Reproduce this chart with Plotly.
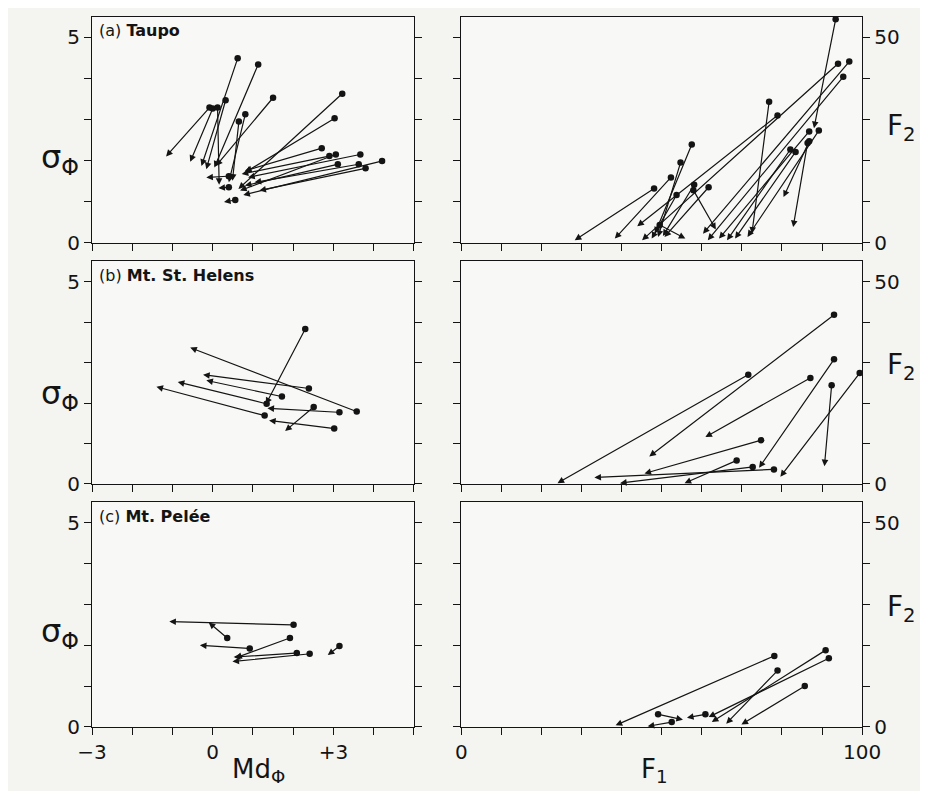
import plotly.graph_objects as go

# ---------------- data ----------------
# (a) Taupo  -- left: Md_phi vs sigma_phi (arrow from start dot to end head)
taupo_md_start = [0.62, 1.13, 0.32, -0.08, 0.00, 0.12, 1.50, 0.81, 0.65, 3.22, 3.03, 2.71, 2.90, 3.06, 3.67, 3.11, 3.63, 4.21, 3.80, 0.40, 0.56, 0.40]
taupo_sd_start = [4.49, 4.34, 3.47, 3.29, 3.27, 3.29, 3.53, 3.13, 2.95, 3.63, 3.03, 2.30, 2.11, 2.15, 2.15, 1.91, 1.91, 1.99, 1.81, 1.62, 1.04, 1.35]
taupo_md_end = [-0.28, 0.04, -0.16, -1.16, -0.56, 0.16, 0.08, 0.40, 0.49, 0.64, 0.80, 0.80, 0.72, 0.68, 0.88, 0.80, 1.04, 0.76, 1.16, -0.16, 0.28, 0.14]
taupo_sd_end = [1.87, 1.83, 1.79, 2.10, 1.97, 1.41, 1.87, 1.47, 1.51, 1.31, 1.71, 1.75, 1.67, 1.27, 1.59, 1.39, 1.47, 1.16, 1.27, 1.59, 0.99, 1.33]
# (a) Taupo -- right: F1 vs F2
taupo_f1_start = [48.1, 52.3, 78.9, 94.0, 57.5, 54.7, 53.7, 58.1, 57.9, 49.5, 61.7, 96.8, 95.3, 76.8, 93.4, 86.8, 89.2, 86.4, 86.8, 82.1, 83.4]
taupo_f2_start = [13.2, 15.9, 31.0, 43.6, 23.9, 19.5, 11.6, 14.1, 12.8, 4.3, 13.5, 44.1, 40.4, 34.3, 54.4, 27.1, 27.3, 24.3, 24.7, 22.7, 22.1]
taupo_f1_end = [28.3, 38.3, 43.9, 45.1, 48.3, 49.1, 47.5, 50.3, 63.5, 55.9, 50.7, 60.3, 61.5, 72.5, 88.0, 64.3, 71.4, 82.8, 80.4, 66.3, 68.3]
taupo_f2_end = [0.6, 1.0, 4.0, 0.6, 2.2, 1.4, 1.0, 1.6, 3.2, 1.0, 1.4, 2.2, 0.6, 2.2, 27.9, 1.0, 1.4, 3.8, 11.1, 0.6, 1.0]

# (b) Mt. St. Helens
helens_md_start = [2.30, 3.58, 2.39, 1.72, 1.34, 1.29, 3.15, 2.51, 3.02]
helens_sd_start = [3.83, 1.79, 2.36, 2.16, 1.98, 1.69, 1.77, 1.90, 1.37]
helens_md_end = [1.32, -0.56, -0.24, -0.16, -0.87, -1.40, 1.36, 1.80, 1.40]
helens_sd_end = [1.97, 3.37, 2.70, 2.56, 2.52, 2.40, 1.87, 1.31, 1.57]
helens_f1_start = [93.0, 71.6, 87.1, 93.0, 92.4, 99.4, 74.8, 68.7, 72.7, 78.0]
helens_f2_start = [41.8, 27.0, 26.2, 30.8, 24.4, 27.4, 10.8, 5.8, 4.2, 3.6]
helens_f1_end = [46.9, 24.0, 60.9, 74.3, 90.6, 79.6, 45.7, 55.7, 39.6, 33.2]
helens_f2_end = [6.8, 0.2, 11.6, 4.0, 4.4, 1.8, 2.6, 0.2, 0.2, 1.6]

# (c) Mt. Pelee
pelee_md_start = [2.01, 0.36, 0.92, 1.92, 2.09, 2.41, 3.15]
pelee_sd_start = [2.50, 2.18, 1.92, 2.18, 1.81, 1.79, 1.98]
pelee_md_end = [-1.08, -0.10, -0.32, 0.56, 0.52, 0.49, 2.86]
pelee_sd_end = [2.58, 2.56, 2.00, 1.69, 1.71, 1.60, 1.76]
pelee_f1_start = [78.1, 90.9, 91.7, 78.9, 85.7, 49.1, 60.9, 52.5]
pelee_f2_start = [17.4, 18.8, 16.8, 13.8, 10.0, 3.1, 3.1, 1.2]
pelee_f1_end = [38.5, 62.5, 61.7, 66.1, 69.9, 55.3, 56.3, 46.5]
pelee_f2_end = [0.4, 1.2, 2.4, 0.8, 0.6, 1.76, 2.24, 0.15]

panel_titles = ["(a) <b>Taupo</b>", "(b) <b>Mt. St. Helens</b>", "(c) <b>Mt. Pelée</b>"]
md_major = [-3, 0, 3]
md_labels = ["\u22123", "0", "+3"]
md_minor = [-2, -1, 1, 2, 4, 5]
sd_major = [0, 5]
sd_labels = ["0", "5"]
sd_minor = [1, 2, 3, 4]
f1_major = [0, 100]
f1_labels = ["0", "100"]
f1_minor = [10, 20, 30, 40, 50, 60, 70, 80, 90]
f2_major = [0, 50]
f2_labels = ["0", "50"]
f2_minor = [10, 20, 30, 40]

left_sets = [
    (taupo_md_start, taupo_sd_start, taupo_md_end, taupo_sd_end),
    (helens_md_start, helens_sd_start, helens_md_end, helens_sd_end),
    (pelee_md_start, pelee_sd_start, pelee_md_end, pelee_sd_end),
]
right_sets = [
    (taupo_f1_start, taupo_f2_start, taupo_f1_end, taupo_f2_end),
    (helens_f1_start, helens_f2_start, helens_f1_end, helens_f2_end),
    (pelee_f1_start, pelee_f2_start, pelee_f1_end, pelee_f2_end),
]

# ---------------- layout geometry ----------------
W, H = 928, 791
INK = "#141414"
FONT = "DejaVu Sans, Lato, sans-serif"
left_dom = [71.7 / W, 405.7 / W]
right_dom = [455.0 / W, 871.0 / W]
rows_px = [(9, 238.3), (257.3, 483.3), (502, 730)]
row_doms = [[1 - b / H, 1 - t / H] for (t, b) in rows_px]


def nm(letter, i):
    return letter if i == 1 else f"{letter}{i}"


def minor(vals):
    return dict(tickvals=vals, ticks="outside", ticklen=7, tickwidth=1.2, tickcolor=INK, showgrid=False)


fig = go.Figure()
annotations = []
layout_axes = {}

for r in range(3):
    li = 2 * r + 1
    ri = 2 * r + 2
    lx, ly = nm("x", li), nm("y", li)
    rx, ry = nm("x", ri), nm("y", ri)
    last = (r == 2)

    common = dict(showgrid=False, zeroline=False, showline=True, linecolor=INK, linewidth=1.3,
                  ticks="outside", ticklen=7, tickwidth=1.2, tickcolor=INK,
                  tickfont=dict(family=FONT, size=20, color=INK))

    layout_axes[nm("xaxis", li)] = dict(common, domain=left_dom, anchor=ly, range=[-3, 5],
                                        tickvals=md_major, ticktext=md_labels, showticklabels=last,
                                        minor=minor(md_minor), mirror=True)
    layout_axes[nm("yaxis", li)] = dict(common, domain=row_doms[r], anchor=lx, range=[0, 5.5],
                                        tickvals=sd_major, ticktext=sd_labels,
                                        minor=minor(sd_minor), mirror="ticks")
    layout_axes[nm("xaxis", ri)] = dict(common, domain=right_dom, anchor=ry, range=[0, 100],
                                        tickvals=f1_major, ticktext=f1_labels, showticklabels=last,
                                        minor=minor(f1_minor), mirror=True)
    layout_axes[nm("yaxis", ri)] = dict(common, domain=row_doms[r], anchor=rx, range=[0, 55],
                                        side="right", tickvals=f2_major, ticktext=f2_labels,
                                        minor=minor(f2_minor), mirror="ticks")

    for (xs, ys, xe, ye), xa, ya in [(left_sets[r], lx, ly), (right_sets[r], rx, ry)]:
        fig.add_trace(go.Scatter(x=xs, y=ys, mode="markers", xaxis=xa, yaxis=ya,
                                 marker=dict(size=6.5, color=INK), showlegend=False, hoverinfo="skip"))
        for a, b, c, d in zip(xs, ys, xe, ye):
            annotations.append(dict(x=c, y=d, ax=a, ay=b, xref=xa, yref=ya, axref=xa, ayref=ya,
                                    text="", showarrow=True, arrowhead=2, arrowsize=1.1,
                                    arrowwidth=1.2, arrowcolor=INK, standoff=0, startstandoff=0))

    # panel title
    annotations.append(dict(text=panel_titles[r], xref=f"{lx} domain", yref=f"{ly} domain",
                            x=0.015, y=0.99, xanchor="left", yanchor="top", showarrow=False,
                            font=dict(family=FONT, size=16, color=INK)))
    # sigma_phi label
    annotations.append(dict(text="\u03c3<sub>\u03a6</sub>", xref="paper", yref=ly,
                            x=38 / W, y=[2.05, 2.2, 2.3][r], xanchor="center", yanchor="middle",
                            showarrow=False, font=dict(family=FONT, size=32, color=INK)))
    # F2 label
    annotations.append(dict(text="F<sub>2</sub>", xref="paper", yref=ry,
                            x=912 / W, y=[28, 29, 29][r], xanchor="center", yanchor="middle",
                            showarrow=False, font=dict(family=FONT, size=28, color=INK)))

annotations.append(dict(text="Md<sub>\u03a6</sub>", xref="paper", yref="paper", x=244 / W, y=1 - 774 / H,
                        xanchor="center", yanchor="middle", showarrow=False,
                        font=dict(family=FONT, size=26, color=INK)))
annotations.append(dict(text="F<sub>1</sub>", xref="paper", yref="paper", x=656 / W, y=1 - 774 / H,
                        xanchor="center", yanchor="middle", showarrow=False,
                        font=dict(family=FONT, size=26, color=INK)))

fig.update_layout(width=W, height=H, margin=dict(l=0, r=0, t=0, b=0),
                  paper_bgcolor="#f4f4f1", plot_bgcolor="#f8f8f6",
                  annotations=annotations, showlegend=False, **layout_axes)

fig.write_html("out.html")
